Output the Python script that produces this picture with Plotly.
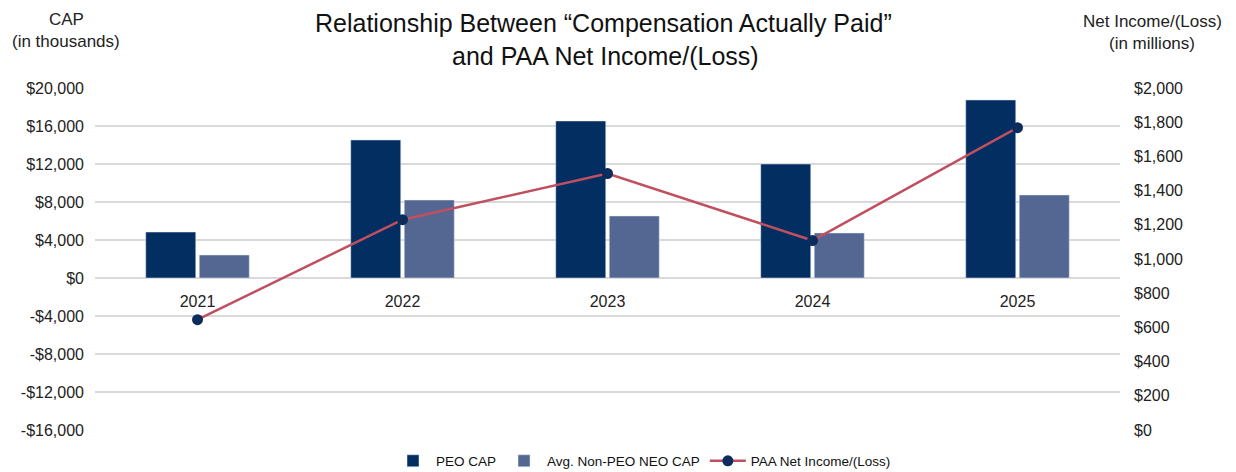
import plotly.graph_objects as go

years = ["2021", "2022", "2023", "2024", "2025"]
peo_cap = [4840, 14530, 16530, 12000, 18740]
non_peo_cap = [2420, 8210, 6530, 4740, 8740]
net_income = [645, 1230, 1500, 1108, 1768]

left_ticks = list(range(-16000, 20001, 4000))
right_ticks = list(range(0, 2001, 200))

def money(v):
    return ("-$" if v < 0 else "$") + f"{abs(v):,}"

FONT = "Liberation Sans, Arial, Helvetica, sans-serif"
OFF = 8  # page body margin
W, H = 1220, 464
L, T = 95 - OFF, 88 - OFF
R = W - (1120 - OFF)
B = H - (430 - OFF)
PW, PH = W - L - R, H - T - B

def px(xv):  # viewport pixel x -> paper x
    return (xv - OFF - L) / PW

def py(yv):  # viewport pixel y -> paper y
    return (H - B - (yv - OFF)) / PH

fig = go.Figure()
fig.add_trace(go.Bar(x=years, y=peo_cap, name="PEO CAP", marker_color="#032E62"))
fig.add_trace(go.Bar(x=years, y=non_peo_cap, name="Avg. Non-PEO NEO CAP", marker_color="#546792"))
fig.add_trace(go.Scatter(x=years, y=net_income, name="PAA Net Income/(Loss)", yaxis="y2",
                         mode="lines+markers",
                         line=dict(color="#C0505F", width=2.5),
                         marker=dict(color="#0B2C5C", size=11)))

ann = []
def text(t, xv, yv, size, color="#222222"):
    ann.append(dict(text=t, xref="paper", yref="paper", x=px(xv), y=py(yv),
                    xanchor="center", yanchor="middle", showarrow=False,
                    font=dict(size=size, color=color)))

text("Relationship Between “Compensation Actually Paid”", 603, 23, 25, "#111111")
text("and PAA Net Income/(Loss)", 605, 56, 25, "#111111")
text("CAP", 66, 20, 17)
text("(in thousands)", 66, 41, 17)
text("Net Income/(Loss)", 1152, 21, 17)
text("(in millions)", 1152, 43, 17)

fig.update_layout(
    width=W, height=H,
    margin=dict(l=L, r=R, t=T, b=B, autoexpand=False),
    paper_bgcolor="white", plot_bgcolor="white",
    font=dict(family=FONT, size=16, color="#222222"),
    barmode="group", bargap=0.478, bargroupgap=0.065,
    showlegend=True,
    legend=dict(orientation="h", x=(643 - OFF) / W, xref="container", xanchor="center",
                y=(472 - 461) / H, yref="container", yanchor="middle",
                font=dict(size=13.5, color="#111111"), itemwidth=36, tracegroupgap=0),
    xaxis=dict(anchor="free", position=(0 - (-16000)) / 36000, showline=False, ticks="",
               tickfont=dict(size=16), showgrid=False, ticklabelstandoff=12, automargin=False),
    yaxis=dict(range=[-16000, 20000], tickvals=left_ticks, ticktext=[money(v) for v in left_ticks],
               showgrid=True, gridcolor="#D9D9D9", gridwidth=1.5, zeroline=False,
               tickfont=dict(size=16), ticklabelstandoff=10, automargin=False),
    yaxis2=dict(range=[0, 2000], overlaying="y", side="right", tickvals=right_ticks,
                ticktext=[money(v) for v in right_ticks], showgrid=False, zeroline=False,
                tickfont=dict(size=16), ticklabelstandoff=13, automargin=False),
    annotations=ann,
)

fig.write_html("out.html")
